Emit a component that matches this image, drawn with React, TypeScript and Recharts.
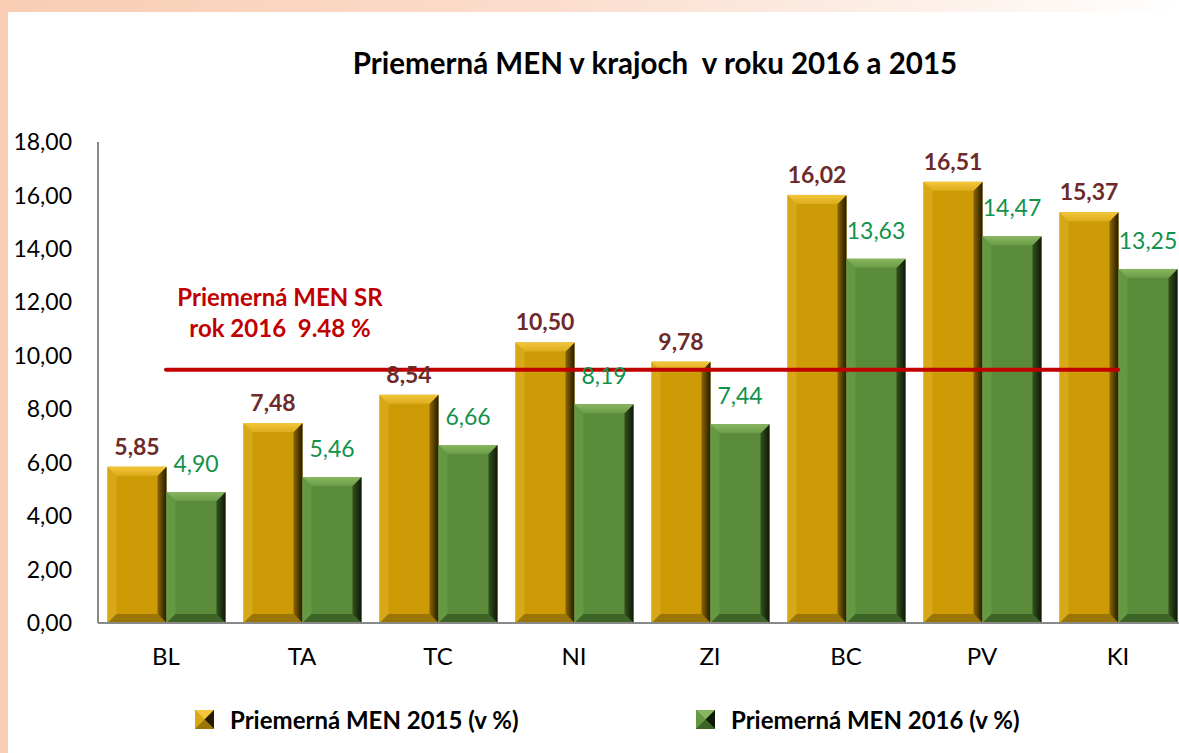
import React from 'react'
import {
  BarChart,
  Bar,
  XAxis,
  YAxis,
  ReferenceLine,
  LabelList,
  Legend,
} from 'recharts'

const regions = ['BL', 'TA', 'TC', 'NI', 'ZI', 'BC', 'PV', 'KI']
const men2015 = [5.85, 7.48, 8.54, 10.5, 9.78, 16.02, 16.51, 15.37]
const men2016 = [4.9, 5.46, 6.66, 8.19, 7.44, 13.63, 14.47, 13.25]
const yTicks = [0, 2, 4, 6, 8, 10, 12, 14, 16, 18]
const averageSR = 9.48

const seriesNames = ['Priemerná MEN 2015 (v %)', 'Priemerná MEN 2016 (v %)']

const data = regions.map((r, i) => ({ region: r, y2015: men2015[i], y2016: men2016[i] }))

const FONT = 'Lato, "Noto Sans", sans-serif'

const gold = {
  id: 'gold',
  base: '#cc9b05',
  left: '#d8a818',
  top: '#f3c53a',
  topEnd: '#dcae1c',
  right: '#8c6700',
  rightEnd: '#241a00',
  bottom: '#9c7604',
}
const green = {
  id: 'green',
  base: '#5a8b3b',
  left: '#659842',
  top: '#88b660',
  topEnd: '#6c9c48',
  right: '#34521f',
  rightEnd: '#0e1807',
  bottom: '#3e6327',
}

type Palette = typeof gold

const fmt = (v: number) => v.toFixed(2).replace('.', ',')

function Gradients({ p }: { p: Palette }) {
  return (
    <>
      <linearGradient id={`${p.id}-top`} x1="0" y1="0" x2="0" y2="1">
        <stop offset="0%" stopColor={p.top} />
        <stop offset="100%" stopColor={p.topEnd} />
      </linearGradient>
      <linearGradient id={`${p.id}-right`} x1="0" y1="0" x2="1" y2="0">
        <stop offset="0%" stopColor={p.right} />
        <stop offset="100%" stopColor={p.rightEnd} />
      </linearGradient>
    </>
  )
}

const bevelShape = (p: Palette) => (props: any) => {
  const { x, y, width: w, height: h } = props
  if (!h || h <= 0) return <g />
  const b = Math.min(9, w / 2, h / 2)
  return (
    <g>
      <rect x={x} y={y} width={w} height={h} fill={p.base} />
      <polygon
        points={`${x},${y} ${x + b},${y + b} ${x + b},${y + h - b} ${x},${y + h}`}
        fill={p.left}
      />
      <polygon
        points={`${x + w},${y} ${x + w},${y + h} ${x + w - b},${y + h - b} ${x + w - b},${y + b}`}
        fill={`url(#${p.id}-right)`}
      />
      <polygon
        points={`${x},${y + h} ${x + b},${y + h - b} ${x + w - b},${y + h - b} ${x + w},${y + h}`}
        fill={p.bottom}
      />
      <polygon
        points={`${x},${y} ${x + w},${y} ${x + w - b},${y + b} ${x + b},${y + b}`}
        fill={`url(#${p.id}-top)`}
      />
    </g>
  )
}

function LegendIcon({ p }: { p: Palette }) {
  const s = 19
  const c = s / 2
  return (
    <svg width={s} height={s} style={{ display: 'block' }}>
      <rect width={s} height={s} fill={p.base} />
      <polygon points={`0,0 ${s},0 ${c},${c}`} fill={p.top} />
      <polygon points={`0,0 ${c},${c} 0,${s}`} fill={p.left} />
      <polygon points={`${s},0 ${s},${s} ${c},${c}`} fill={p.rightEnd} />
      <polygon points={`0,${s} ${c},${c} ${s},${s}`} fill={p.bottom} />
    </svg>
  )
}

function renderLegend() {
  const items = [
    { name: seriesNames[0], p: gold, left: 187 },
    { name: seriesNames[1], p: green, left: 688 },
  ]
  return (
    <div style={{ position: 'relative', height: 30 }}>
      {items.map(it => (
        <div
          key={it.name}
          style={{
            position: 'absolute',
            left: it.left,
            top: 0,
            display: 'flex',
            alignItems: 'center',
            gap: 16,
            fontFamily: FONT,
            fontWeight: 700,
            fontSize: 24,
            color: '#000',
            whiteSpace: 'nowrap',
          }}
        >
          <LegendIcon p={it.p} />
          <span>{it.name}</span>
        </div>
      ))}
    </div>
  )
}

function renderRefLabel(props: any) {
  const vb = props.viewBox || {}
  const cx = (vb.x ?? 0) + 114
  const y = vb.y ?? 0
  return (
    <text
      textAnchor="middle"
      fill="#c00000"
      fontFamily={FONT}
      fontWeight={700}
      fontSize={24}
    >
      <tspan x={cx} y={y - 64}>Priemerná MEN SR</tspan>
      <tspan x={cx} y={y - 33}>rok 2016{'\u00a0\u00a0'}9.48 %</tspan>
    </text>
  )
}

export default function App() {
  return (
    <div
      style={{
        position: 'fixed',
        left: 0,
        top: 0,
        width: 1179,
        height: 753,
        overflow: 'hidden',
        background: 'linear-gradient(90deg, #f8cdb4 0%, #fbdccb 45%, #fdf1ea 80%, #ffffff 100%)',
      }}
    >
      <div
        style={{
          position: 'absolute',
          left: 8,
          top: 12,
          width: 1171,
          height: 741,
          background: '#fff',
          overflow: 'hidden',
        }}
      >
        <div
          style={{
            position: 'absolute',
            left: 647,
            top: 35,
            transform: 'translateX(-50%)',
            whiteSpace: 'pre',
            fontFamily: FONT,
            fontWeight: 700,
            fontSize: 29.5,
            lineHeight: '32px',
            color: '#000',
          }}
        >
          {'Priemerná MEN v krajoch  v roku 2016 a 2015'}
        </div>
        <BarChart
          width={1200}
          height={741}
          data={data}
          margin={{ top: 130, right: 22, left: 10, bottom: 70 }}
          barCategoryGap={9.5}
          barGap={0}
        >
          <defs>
            <Gradients p={gold} />
            <Gradients p={green} />
          </defs>
          <XAxis
            dataKey="region"
            height={30}
            tickLine={false}
            axisLine={{ stroke: '#888888', strokeWidth: 2 }}
            tick={{ fill: '#000', fontSize: 24, fontFamily: FONT }}
            tickMargin={19}
          />
          <YAxis
            width={80}
            domain={[0, 18]}
            ticks={yTicks}
            tickFormatter={fmt}
            tickLine={false}
            axisLine={{ stroke: '#888888', strokeWidth: 2 }}
            tick={{ fill: '#000', fontSize: 23, fontFamily: FONT }}
            tickMargin={20}
            interval={0}
          />
          <Legend
            content={renderLegend}
            wrapperStyle={{ position: 'absolute', left: 0, top: 693, width: 1171, height: 30 }}
          />
          <Bar
            dataKey="y2015"
            name={seriesNames[0]}
            fill={gold.base}
            shape={bevelShape(gold)}
            isAnimationActive={false}
          >
            <LabelList
              dataKey="y2015"
              position="top"
              offset={12}
              formatter={(v: any) => fmt(Number(v))}
              fill="#6d2a2a"
              fontSize={23}
              fontWeight={700}
              fontFamily={FONT}
            />
          </Bar>
          <Bar
            dataKey="y2016"
            name={seriesNames[1]}
            fill={green.base}
            shape={bevelShape(green)}
            isAnimationActive={false}
          >
            <LabelList
              dataKey="y2016"
              position="top"
              offset={20}
              formatter={(v: any) => fmt(Number(v))}
              fill="#11924b"
              fontSize={23}
              fontFamily={FONT}
            />
          </Bar>
          <ReferenceLine
            segment={[
              { x: 'BL', y: averageSR },
              { x: 'KI', y: averageSR },
            ]}
            stroke="#c00000"
            strokeWidth={4}
            strokeLinecap="round"
            label={renderRefLabel}
          />
        </BarChart>
      </div>
    </div>
  )
}
